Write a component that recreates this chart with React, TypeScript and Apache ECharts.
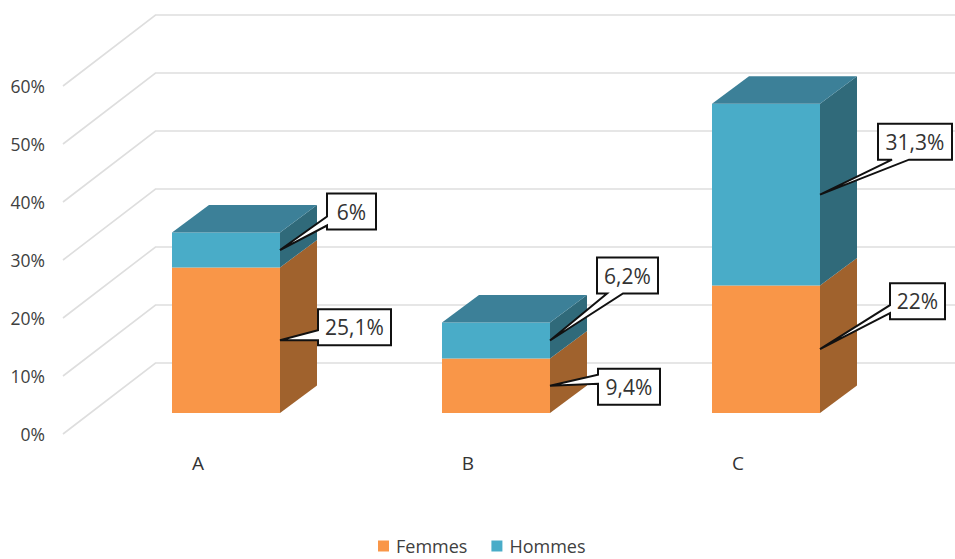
import React, { useEffect, useRef } from "react";
import * as echarts from "echarts";

const categories = ["A", "B", "C"];
const femmes = [25.1, 9.4, 22];
const hommes = [6, 6.2, 31.3];
const yTicks = [0, 10, 20, 30, 40, 50, 60];

// Oblique projection of the 3D box: wall depth, bar placement inside the wall, bar depth
const WALL_DX = 92.5;
const WALL_DY = -71;
const BAR_DX = 28;
const BAR_DY = -21;
const BAR_W = 108;
const DEPTH_DX = 37;
const DEPTH_DY = -27.5;

const FONT = '"Open Sans", "Noto Sans", sans-serif';

const orangeFaces = { front: "#F99648", side: "#A0622D", top: "#B8722F" };
const blueFaces = { front: "#49ACC8", side: "#306A7A", top: "#3C8098" };

// Callout boxes, placed relative to the pointer tip; `a`/`b` bound the wedge on the box edge
const femmesCallouts = [
  { dx: 38, dy: -31, w: 73, edge: "left", a: 21, b: 31 },
  { dx: 48, dy: -17, w: 62, edge: "left", a: 6, b: 15 },
  { dx: 70, dy: -66, w: 55, edge: "left", a: 22, b: 30 },
];
const hommesCallouts = [
  { dx: 47, dy: -56.5, w: 49, edge: "left", a: 23, b: 32 },
  { dx: 47, dy: -83, w: 61, edge: "bottom", a: 10, b: 26 },
  { dx: 58, dy: -71, w: 74, edge: "bottom", a: 14, b: 31 },
];
const CALLOUT_H = 36;

const pct = (v: number) => String(v).replace(".", ",") + "%";

function barItem(faces: { front: string; side: string; top: string }, withTop: boolean) {
  return (_params: any, api: any) => {
    const cat = api.value(0);
    const lo = api.coord([cat, api.value(1)]);
    const hi = api.coord([cat, api.value(2)]);
    const x0 = lo[0] + BAR_DX - BAR_W / 2;
    const x1 = x0 + BAR_W;
    const yLo = lo[1] + BAR_DY;
    const yHi = hi[1] + BAR_DY;
    const children: any[] = [
      {
        type: "polygon",
        shape: {
          points: [
            [x1, yLo],
            [x1 + DEPTH_DX, yLo + DEPTH_DY],
            [x1 + DEPTH_DX, yHi + DEPTH_DY],
            [x1, yHi],
          ],
        },
        style: { fill: faces.side },
      },
      {
        type: "rect",
        shape: { x: x0, y: yHi, width: BAR_W, height: yLo - yHi },
        style: { fill: faces.front },
      },
    ];
    if (withTop) {
      children.push({
        type: "polygon",
        shape: {
          points: [
            [x0, yHi],
            [x1, yHi],
            [x1 + DEPTH_DX, yHi + DEPTH_DY],
            [x0 + DEPTH_DX, yHi + DEPTH_DY],
          ],
        },
        style: { fill: faces.top },
      });
    }
    return { type: "group", children };
  };
}

function wallItem(params: any, api: any) {
  const v = api.value(1);
  const p = api.coord([0, v]);
  const left = params.coordSys.x;
  const right = left + params.coordSys.width + WALL_DX;
  return {
    type: "polyline",
    shape: {
      points: [
        [left, p[1]],
        [left + WALL_DX, p[1] + WALL_DY],
        [right, p[1] + WALL_DY],
      ],
    },
    style: { stroke: "#DEDEDE", lineWidth: 1.6, fill: "none" },
  };
}

function calloutItem(layouts: typeof femmesCallouts, values: number[]) {
  return (params: any, api: any) => {
    const cat = api.value(0);
    const mid = (api.value(1) + api.value(2)) / 2;
    const c = api.coord([cat, mid]);
    const tx = c[0] + BAR_DX + BAR_W / 2;
    const ty = c[1] + BAR_DY;
    const l = layouts[params.dataIndex];
    const x = tx + l.dx;
    const y = ty + l.dy;
    const h = CALLOUT_H;
    const points =
      l.edge === "left"
        ? [[x, y], [x + l.w, y], [x + l.w, y + h], [x, y + h], [x, y + l.b], [tx, ty], [x, y + l.a]]
        : [[x, y], [x + l.w, y], [x + l.w, y + h], [x + l.b, y + h], [tx, ty], [x + l.a, y + h], [x, y + h]];
    return {
      type: "group",
      children: [
        {
          type: "polygon",
          shape: { points },
          // Low miter limit keeps the sharp pointer tip on the bar edge
          style: { fill: "#FFFFFF", stroke: "#111111", lineWidth: 2, lineJoin: "miter", miterLimit: 3 },
        },
        {
          type: "text",
          style: {
            text: pct(values[params.dataIndex]),
            x: x + l.w / 2,
            y: y + h / 2,
            align: "center",
            verticalAlign: "middle",
            fill: "#333333",
            fontSize: 21,
            fontFamily: FONT,
          },
        },
      ],
    };
  };
}

export default function App() {
  const ref = useRef<HTMLDivElement>(null);

  useEffect(() => {
    const chart = echarts.init(ref.current!, undefined, { renderer: "svg" });
    const femmesRows = categories.map((_, i) => [i, 0, femmes[i]]);
    const hommesRows = categories.map((_, i) => [i, femmes[i], femmes[i] + hommes[i]]);

    chart.setOption({
      animation: false,
      backgroundColor: "#FFFFFF",
      grid: { left: 63, top: 86, width: 810, height: 348, containLabel: false },
      xAxis: {
        type: "category",
        data: categories,
        axisLine: { show: false },
        axisTick: { show: false },
        axisLabel: { margin: 19, fontSize: 19, color: "#333333", fontFamily: FONT },
      },
      yAxis: {
        type: "value",
        min: 0,
        max: 60,
        interval: 10,
        axisLine: { show: false },
        axisTick: { show: false },
        splitLine: { show: false },
        axisLabel: {
          formatter: "{value}%",
          margin: 18,
          fontSize: 17.5,
          color: "#404040",
          fontFamily: FONT,
        },
      },
      legend: {
        data: ["Femmes", "Hommes"],
        left: 378,
        top: 537,
        padding: 0,
        itemWidth: 11,
        itemHeight: 11,
        itemGap: 24,
        icon: "rect",
        textStyle: {
          fontSize: 18,
          lineHeight: 16,
          color: "#404040",
          fontFamily: FONT,
          padding: [0, 0, 0, 2],
        },
      },
      series: [
        {
          type: "custom",
          name: "Grille",
          renderItem: wallItem,
          data: yTicks.map((v) => [0, v]),
          encode: { x: 0, y: 1 },
          silent: true,
          z: 1,
        },
        {
          type: "custom",
          name: "Femmes",
          renderItem: barItem(orangeFaces, false),
          data: femmesRows,
          encode: { x: 0, y: [1, 2] },
          itemStyle: { color: orangeFaces.front },
          z: 2,
        },
        {
          type: "custom",
          name: "Hommes",
          renderItem: barItem(blueFaces, true),
          data: hommesRows,
          encode: { x: 0, y: [1, 2] },
          itemStyle: { color: blueFaces.front },
          z: 3,
        },
        {
          type: "custom",
          name: "Étiquettes Femmes",
          renderItem: calloutItem(femmesCallouts, femmes),
          data: femmesRows,
          encode: { x: 0, y: [1, 2] },
          z: 4,
        },
        {
          type: "custom",
          name: "Étiquettes Hommes",
          renderItem: calloutItem(hommesCallouts, hommes),
          data: hommesRows,
          encode: { x: 0, y: [1, 2] },
          z: 5,
        },
      ],
    });
    return () => chart.dispose();
  }, []);

  return (
    <div
      ref={ref}
      style={{ position: "absolute", left: 0, top: 0, width: 955, height: 559 }}
    />
  );
}
